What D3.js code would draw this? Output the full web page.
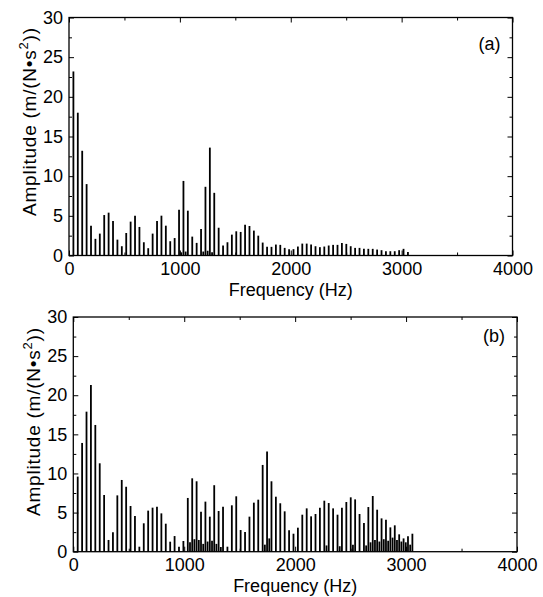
<!DOCTYPE html>
<html>
<head>
<meta charset="utf-8">
<script src="https://cdn.jsdelivr.net/npm/d3@7"></script>
<style>
  body { margin: 0; background: #fff; }
  text { font-family: "Liberation Sans", Arial, sans-serif; fill: #000; }
</style>
</head>
<body>
<svg id="chart" width="543" height="597"></svg>
<script>
// harmonic spacing (Hz)
const fundamental = 39.7;

// panel (a): amplitude of harmonics 1..77
const ampA = [23.2, 18.0, 13.2, 9.0, 3.76, 2.1, 2.76, 5.1, 5.4, 4.35,
  2.0, 1.17, 2.84, 4.27, 5.02, 3.6, 1.67, 0.92, 2.76, 4.35,
  5.02, 3.76, 1.8, 2.2, 5.77, 9.4, 5.65, 2.38, 1.59, 3.35,
  8.66, 13.6, 7.9, 3.5, 1.25, 1.67, 2.63, 3.05, 2.97, 3.89,
  3.72, 3.14, 2.5, 1.63, 1.09, 1.09, 1.38, 1.34, 0.96, 0.8,
  0.8, 1.13, 1.5, 1.5, 1.38, 1.17, 1.05, 1.13, 1.26, 1.34,
  1.34, 1.59, 1.46, 1.17, 0.96, 0.96, 0.84, 0.84, 0.84, 0.75,
  0.67, 0.54, 0.54, 0.54, 0.67, 0.84, 0.45];

// panel (b): amplitude of harmonics 1..77
const ampB = [9.6, 13.9, 17.9, 21.3, 16.2, 11.3, 7.25, 1.5, 2.5, 7.2,
  9.17, 8.3, 5.84, 4.56, 0.64, 3.63, 5.25, 5.63, 5.76, 4.9,
  3.58, 1.28, 2.0, 0.64, 1.37, 6.87, 9.38, 9.0, 5.12, 6.4,
  4.48, 8.5, 5.2, 5.76, 0.64, 5.93, 7.08, 2.77, 2.52, 4.48,
  6.27, 6.65, 11.09, 12.8, 9.0, 7.03, 6.19, 5.16, 2.73, 2.3,
  3.07, 4.73, 5.54, 4.52, 4.82, 5.63, 6.52, 6.22, 5.54, 4.73,
  5.63, 6.35, 6.95, 6.69, 4.82, 3.67, 5.71, 7.12, 5.37, 4.26,
  4.09, 3.11, 3.37, 2.22, 1.7, 1.96, 2.3];

// small in-between lines: [harmonic index + 0.5, amplitude]
const sideB = [[26.5, 1.2], [27.5, 1.6], [28.5, 1.5], [29.5, 1.0], [30.5, 1.3],
  [31.5, 1.4], [32.5, 1.0], [33.5, 0.6], [43.5, 0.9], [44.5, 1.7],
  [57.5, 0.8], [60.5, 0.7], [63.5, 0.9], [66.5, 0.8], [67.5, 1.2],
  [68.5, 1.5], [69.5, 1.3], [70.5, 1.6], [71.5, 1.4], [72.5, 1.8],
  [73.5, 1.5], [74.5, 1.3], [75.5, 1.2], [76.5, 0.9]];
const sideA = [[25.5, 0.4], [26.5, 0.5], [30.5, 0.5], [31.5, 0.6], [32.5, 0.4]];

const xTicks = [0, 1000, 2000, 3000, 4000];
const xMinor = [500, 1500, 2500, 3500];
const yTicks = [0, 5, 10, 15, 20, 25, 30];
const yMinor = [2.5, 7.5, 12.5, 17.5, 22.5, 27.5];

const panels = [
  { tag: "(a)", amp: ampA, side: sideA, left: 69, right: 512.5, top: 17.5, bottom: 255.5, labelY: 122, tagDy: 32 },
  { tag: "(b)", amp: ampB, side: sideB, left: 73.3, right: 517, top: 317, bottom: 551.7, labelY: 422, tagDy: 25 }
];

const svg = d3.select("#chart");

panels.forEach(p => {
  const x = d3.scaleLinear().domain([0, 4000]).range([p.left, p.right]);
  const y = d3.scaleLinear().domain([0, 30]).range([p.bottom, p.top]);
  const g = svg.append("g");

  const lines = p.amp.map((v, i) => ({ f: fundamental * (i + 1), v }))
    .concat(p.side.map(d => ({ f: fundamental * d[0], v: d[1] })));

  g.selectAll("line.bar").data(lines).enter().append("line")
    .attr("class", "bar")
    .attr("x1", d => x(d.f)).attr("x2", d => x(d.f))
    .attr("y1", y(0)).attr("y2", d => y(d.v))
    .attr("stroke", "#000").attr("stroke-width", 1.8);

  const font = s => s.selectAll("text").style("font-size", "18px").style("font-family", '"Liberation Sans", Arial, sans-serif');
  const clean = s => s.select(".domain").remove();

  g.append("g").attr("transform", `translate(0,${p.bottom})`)
    .call(d3.axisBottom(x).tickValues(xTicks).tickSize(-5).tickPadding(6.5).tickFormat(d3.format("d")))
    .call(clean).call(font);
  g.append("g").attr("transform", `translate(0,${p.bottom})`)
    .call(d3.axisBottom(x).tickValues(xMinor).tickSize(-3).tickFormat(""))
    .call(clean);
  g.append("g").attr("transform", `translate(0,${p.top})`)
    .call(d3.axisTop(x).tickValues(xTicks).tickSize(-5).tickFormat(""))
    .call(clean);
  g.append("g").attr("transform", `translate(0,${p.top})`)
    .call(d3.axisTop(x).tickValues(xMinor).tickSize(-3).tickFormat(""))
    .call(clean);

  g.append("g").attr("transform", `translate(${p.left},0)`)
    .call(d3.axisLeft(y).tickValues(yTicks).tickSize(-5).tickPadding(6))
    .call(clean).call(font);
  g.append("g").attr("transform", `translate(${p.left},0)`)
    .call(d3.axisLeft(y).tickValues(yMinor).tickSize(-3).tickFormat(""))
    .call(clean);
  g.append("g").attr("transform", `translate(${p.right},0)`)
    .call(d3.axisRight(y).tickValues(yTicks).tickSize(-5).tickFormat(""))
    .call(clean);
  g.append("g").attr("transform", `translate(${p.right},0)`)
    .call(d3.axisRight(y).tickValues(yMinor).tickSize(-3).tickFormat(""))
    .call(clean);

  g.selectAll(".tick line").attr("stroke", "#000").attr("stroke-width", 1);

  g.append("rect")
    .attr("x", p.left).attr("y", p.top)
    .attr("width", p.right - p.left).attr("height", p.bottom - p.top)
    .attr("fill", "none").attr("stroke", "#000").attr("stroke-width", 1.3);

  g.append("text")
    .attr("x", (p.left + p.right) / 2).attr("y", p.bottom + 40)
    .attr("text-anchor", "middle").style("font-size", "18px")
    .text("Frequency (Hz)");

  const yl = g.append("text")
    .attr("transform", `translate(${p.left - 33},${p.labelY}) rotate(-90)`)
    .attr("text-anchor", "middle").style("font-size", "19px")
    .attr("textLength", 188).attr("lengthAdjust", "spacing");
  yl.append("tspan").text("Amplitude (m/(N\u2022s");
  yl.append("tspan").attr("dy", -8).style("font-size", "13px").text("2");
  yl.append("tspan").attr("dy", 8).text("))");

  g.append("text")
    .attr("x", p.right - 12).attr("y", p.top + p.tagDy)
    .attr("text-anchor", "end").style("font-size", "18px")
    .text(p.tag);
});
</script>
</body>
</html>
